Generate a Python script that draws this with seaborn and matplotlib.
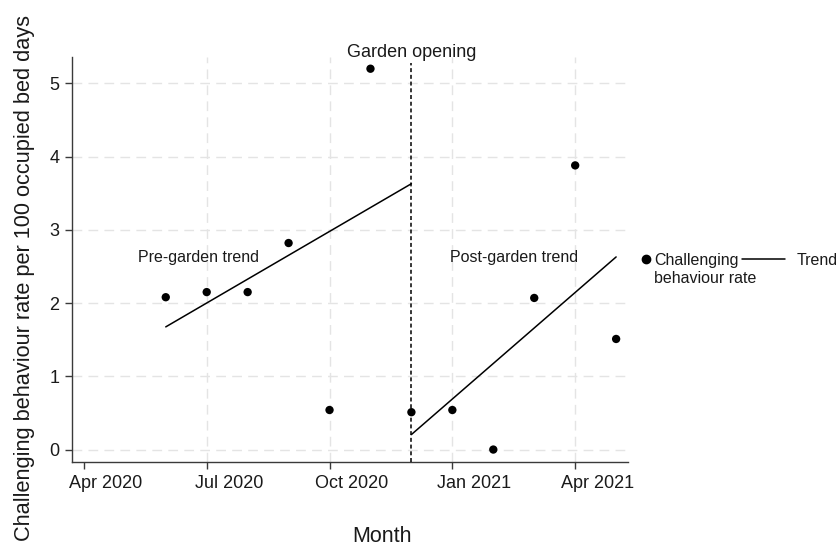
import matplotlib
matplotlib.use("Agg")
import matplotlib.pyplot as plt
from matplotlib.lines import Line2D
from matplotlib.transforms import ScaledTranslation
import seaborn as sns
import pandas as pd

# Monthly challenging behaviour rate (per 100 occupied bed days)
months = ["2020-06", "2020-07", "2020-08", "2020-09", "2020-10", "2020-11",
          "2020-12", "2021-01", "2021-02", "2021-03", "2021-04", "2021-05"]
rate = [2.08, 2.15, 2.15, 2.82, 0.54, 5.20, 0.51, 0.54, 0.00, 2.07, 3.88, 1.51]

# Segmented trend lines (fitted values at segment ends)
pre_months = ["2020-06", "2020-12"]
pre_trend = [1.675, 3.63]
post_months = ["2020-12", "2021-05"]
post_trend = [0.205, 2.63]

garden_month = "2020-12"
tick_months = ["2020-04", "2020-07", "2020-10", "2021-01", "2021-04"]
tick_labels = ["Apr 2020", "Jul 2020", "Oct 2020", "Jan 2021", "Apr 2021"]
y_ticks = [0, 1, 2, 3, 4, 5]

origin = pd.Period("2020-04", freq="M")


def month_pos(labels):
    return [(pd.Period(m, freq="M") - origin).n for m in labels]


sns.set_theme(style="white")
plt.rcParams["font.family"] = ["Liberation Sans", "DejaVu Sans"]

ink = "#1a1a1a"
spine_col = "#3a3a3a"

fig = plt.figure(figsize=(8.37, 5.49), dpi=100)
W, H = 837, 549
ax = fig.add_axes([72 / W, 1 - 462 / H, (628 - 72) / W, (462 - 57) / H])

obs = pd.DataFrame({"x": month_pos(months), "rate": rate})
pre = pd.DataFrame({"x": month_pos(pre_months), "trend": pre_trend})
post = pd.DataFrame({"x": month_pos(post_months), "trend": post_trend})

sns.lineplot(data=pre, x="x", y="trend", color="black", lw=1.1, ax=ax)
sns.lineplot(data=post, x="x", y="trend", color="black", lw=1.1, ax=ax)
sns.scatterplot(data=obs, x="x", y="rate", color="black", s=36,
                edgecolor="none", ax=ax, zorder=4)

gx = month_pos([garden_month])[0]
ax.axvline(gx, ymin=0, ymax=0.985, color="black", lw=1.1,
           linestyle=(0, (2.6, 1.8)), zorder=3)

ax.set_xlim(-0.29, 13.29)
ax.set_ylim(-0.17, 5.36)
ax.set_xticks(month_pos(tick_months))
ax.set_xticklabels(tick_labels)
ax.set_yticks(y_ticks)

ax.grid(True, color="#e4e4e4", lw=1.0, linestyle=(0, (7, 4.5)))
ax.set_axisbelow(True)
# no vertical gridline at the first tick, next to the y axis
ax.xaxis.get_gridlines()[0].set_visible(False)

for side in ["top", "right"]:
    ax.spines[side].set_visible(False)
for side in ["left", "bottom"]:
    ax.spines[side].set_color(spine_col)
    ax.spines[side].set_linewidth(1.0)

ax.tick_params(axis="both", which="major", direction="out", length=5,
               width=1.0, color=spine_col, labelsize=13, labelcolor=ink,
               pad=4, left=True, bottom=True)

# month labels sit to the right of their tick marks
shift = ScaledTranslation(22 / 100, 0, fig.dpi_scale_trans)
for lab in ax.get_xticklabels():
    lab.set_transform(lab.get_transform() + shift)

# Annotations
ax.text(gx, 5.36, "Garden opening", ha="center", va="baseline",
        fontsize=13, color=ink, clip_on=False)
ax.text(2.79, 2.62, "Pre-garden trend", ha="center", va="center",
        fontsize=11.5, color=ink)
ax.text(10.5, 2.62, "Post-garden trend", ha="center", va="center",
        fontsize=11.5, color=ink)

# Axis titles
ax.set_xlabel("Month", fontsize=15.5, color=ink)
ax.xaxis.label.set(ha="center", va="baseline")
ax.xaxis.set_label_coords(382 / W, 1 - 541.7 / H, transform=fig.transFigure)

ax.set_ylabel("Challenging behaviour rate per 100 occupied bed days",
              fontsize=15.7, color=ink)
ax.yaxis.label.set(ha="right", va="baseline", rotation_mode="anchor")
ax.yaxis.set_label_coords(30 / W, 1 - 15 / H, transform=fig.transFigure)

# Legend, drawn at figure level to the right of the plot
fig.add_artist(Line2D([646 / W], [1 - 259 / H], marker="o", ls="",
                      color="black", markersize=6, transform=fig.transFigure))
fig.text(654 / W, 1 - 265 / H, "Challenging", fontsize=11.5, color=ink,
         ha="left", va="baseline")
fig.text(654 / W, 1 - 283.3 / H, "behaviour rate", fontsize=11.5, color=ink,
         ha="left", va="baseline")
fig.add_artist(Line2D([742 / W, 785 / W], [1 - 258.5 / H, 1 - 258.5 / H],
                      color="black", lw=1.1, transform=fig.transFigure))
fig.text(797 / W, 1 - 265 / H, "Trend", fontsize=11.5, color=ink,
         ha="left", va="baseline")

fig.savefig("out.png", dpi=100)
